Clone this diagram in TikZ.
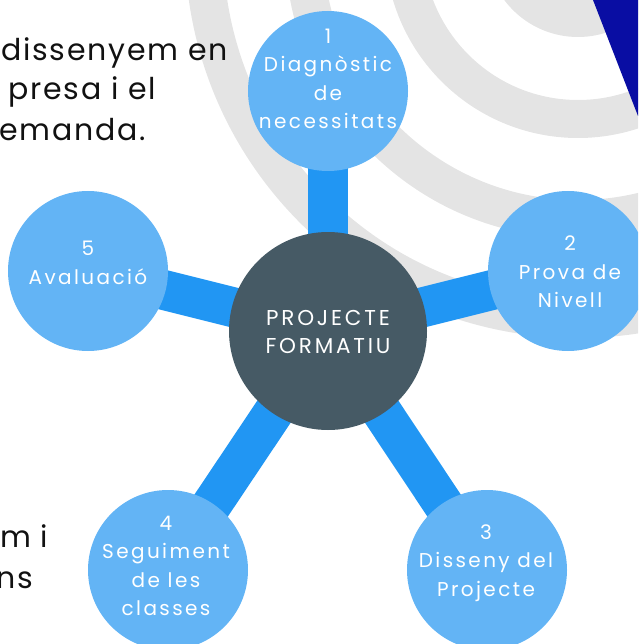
\documentclass[tikz,border=0pt]{standalone}
\usepackage{fontspec}
\setmainfont{Poppins}
\usetikzlibrary{backgrounds}

\definecolor{hubgrey}{RGB}{70,90,101}
\definecolor{stepblue}{RGB}{99,180,245}
\definecolor{spokeblue}{RGB}{33,150,243}
\definecolor{ringgrey}{RGB}{228,228,228}
\definecolor{navy}{RGB}{9,13,163}
\definecolor{introblack}{RGB}{17,17,17}

\newcommand{\stepfont}{\fontsize{20}{28.5}\selectfont\addfontfeatures{LetterSpace=12}}
\newcommand{\hubfont}{\fontsize{21.5}{28}\selectfont\addfontfeatures{LetterSpace=13}}
\newcommand{\introfont}{\fontsize{30}{40}\selectfont\addfontfeatures{LetterSpace=6}}

\tikzset{
  hubcirc/.style={circle, fill=hubgrey, minimum size=198pt, inner sep=0pt},
  stepcirc/.style={circle, fill=stepblue, minimum size=160pt, inner sep=0pt},
  steptext/.style={text=white, align=center, font=\stepfont, inner sep=0pt},
  introtext/.style={anchor=base west, text=introblack, font=\introfont, inner sep=0pt},
  spoke/.style={draw=spokeblue, line width=40pt},
  ring/.style={draw=ringgrey, line width=38pt}
}

\begin{document}
\begin{tikzpicture}[x=1pt, y=-1pt]
  \useasboundingbox (0,0) rectangle (638,644);
  \clip (0,0) rectangle (638,644);

  % rings and corner
  \begin{scope}[on background layer]
    \clip (0,0) rectangle (638,644);
    \foreach \r in {73,174,274,374} {
      \draw[ring] (578,-55) circle (\r pt);
    }
    \fill[navy] (593,0) -- (638,0) -- (638,116) -- cycle;
  \end{scope}

  % text cut at the left edge
  \node[introtext] (l1) at (1,61) {dissenyem en};
  \node[introtext] (l2) at (8,100) {presa i el};
  \node[introtext] (l3) at (-1,141) {emanda.};
  \node[introtext] (l4) at (0,547) {m i};
  \node[introtext] (l5) at (-4,588) {ns};

  % hub
  \node[hubcirc] (hub) at (328,331) {};
  \node[steptext, font=\hubfont] (thub) at (328,332) {PROJECTE\\FORMATIU};

  % steps
  \node[stepcirc] (s1) at (328,91) {};
  \node[stepcirc] (s2) at (568,271) {};
  \node[stepcirc] (s3) at (487,570) {};
  \node[stepcirc] (s4) at (168,570) {};
  \node[stepcirc] (s5) at (88,271) {};

  \node[steptext] (t1) at (328,79) {1\\Diagnòstic\\de\\necessitats};
  \node[steptext] (t2) at (570,272) {2\\Prova de\\Nivell};
  \node[steptext] (t3) at (486,563) {3\\Disseny del\\Projecte};
  \node[steptext] (t4) at (166,566) {4\\Seguiment\\de les\\classes};
  \node[steptext] (t5) at (88,263) {5\\Avaluació};

  % spokes
  \begin{scope}[on background layer]
    \foreach \s in {s1,s2,s3,s4,s5} {
      \draw[spoke] (hub.center) -- (\s.center);
    }
  \end{scope}
\end{tikzpicture}
\end{document}
